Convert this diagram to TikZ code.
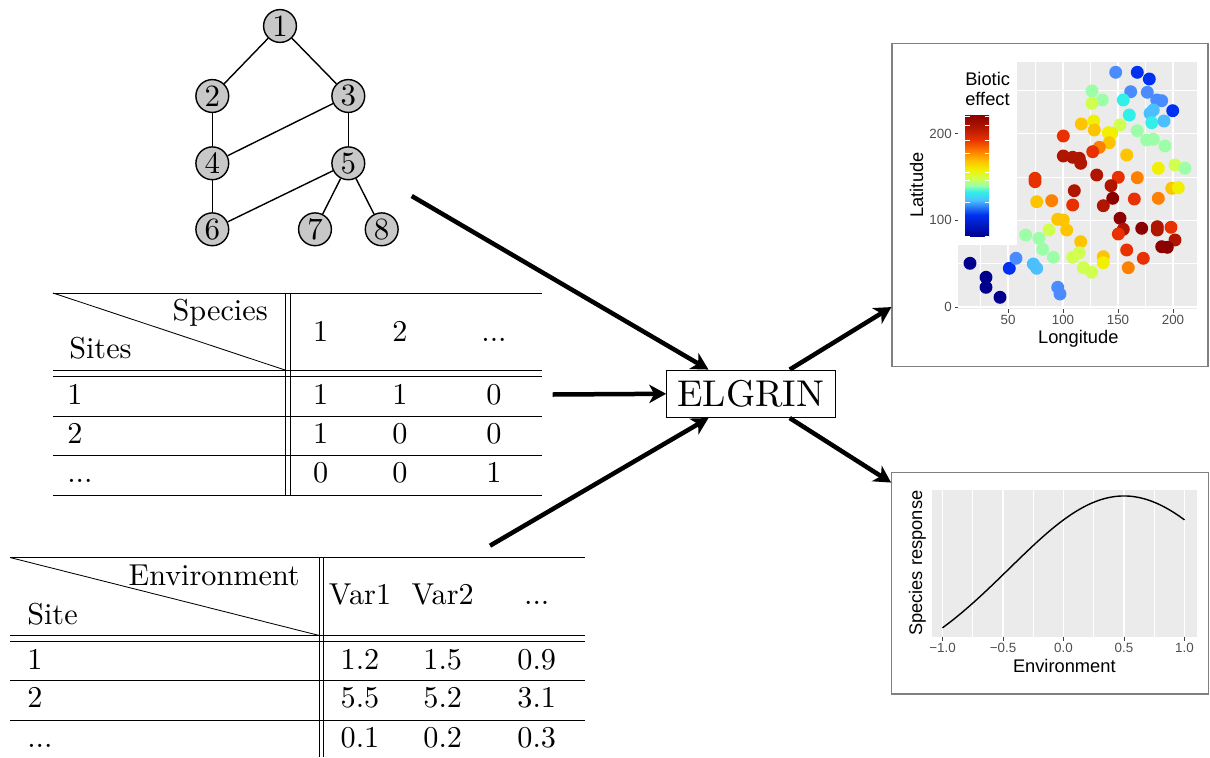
\documentclass[tikz,border=0pt]{standalone}
\usepackage{fontspec}
\usepackage{tikz}
\usetikzlibrary{positioning, arrows.meta, calc}
\setmainfont{lmroman10-regular.otf}
\newfontfamily\plotfont{Liberation Sans}

\definecolor{panelgrey}{HTML}{EBEBEB}
\definecolor{ticktext}{HTML}{4D4D4D}
\definecolor{framegrey}{HTML}{808080}
\definecolor{nodegrey}{HTML}{C8C8C8}
% jet palette, low to high
\definecolor{jet1}{HTML}{00008C}
\definecolor{jet2}{HTML}{0030F0}
\definecolor{jet3}{HTML}{4A8CFF}
\definecolor{jet4}{HTML}{4CC0FF}
\definecolor{jet5}{HTML}{30F0E8}
\definecolor{jet6}{HTML}{9CFFA8}
\definecolor{jet7}{HTML}{D0FF50}
\definecolor{jet8}{HTML}{F0F000}
\definecolor{jet9}{HTML}{FFC400}
\definecolor{jet10}{HTML}{FF8000}
\definecolor{jet11}{HTML}{E83000}
\definecolor{jet12}{HTML}{B01500}
\definecolor{jet13}{HTML}{8C0000}
\pgfdeclareverticalshading{jetbar}{100bp}{color(0bp)=(jet1); color(25bp)=(jet1);
  color(34bp)=(jet2); color(40bp)=(jet4); color(43.5bp)=(jet5); color(46bp)=(jet6);
  color(49bp)=(jet7); color(52.5bp)=(jet8); color(56bp)=(jet9); color(60bp)=(jet10);
  color(65bp)=(jet11); color(70bp)=(jet12); color(75bp)=(jet13); color(100bp)=(jet13)}

\begin{document}
\begin{tikzpicture}[x=0.025cm, y=-0.025cm,
    vertex/.style={draw, line width=1pt, circle, fill=nodegrey, minimum size=0.82cm,
                   inner sep=0pt, font=\fontsize{22}{24}\selectfont},
    edge/.style={line width=1pt},
    cell/.style={inner sep=0pt, anchor=base, font=\fontsize{21.5}{24}\selectfont},
    rowhead/.style={cell, anchor=base west},
    tabrule/.style={line width=0.6pt},
    engine/.style={draw, line width=0.6pt, minimum width=4.21cm, minimum height=1.19cm,
                   inner sep=0pt, font=\fontsize{26.5}{30}\selectfont},
    flow/.style={line width=3.2pt, -{Stealth[length=12pt, width=13pt, inset=3.5pt]}},
    figframe/.style={draw=framegrey, line width=0.8pt, inner sep=0pt},
    majorline/.style={white, line width=1pt},
    minorline/.style={white, line width=0.5pt},
    axtick/.style={black!75, line width=0.6pt},
    ticklabel/.style={font=\plotfont\fontsize{9.5}{11}\selectfont, text=ticktext, inner sep=0pt},
    axtitle/.style={font=\plotfont\fontsize{13}{14}\selectfont, inner sep=0pt}
]
    \useasboundingbox (0,0) rectangle (1210,757);

    % ========== Network ==========
    \node[vertex] (n1) at (280,26)     {1};
    \node[vertex] (n2) at (212.3,96)   {2};
    \node[vertex] (n3) at (348.3,96)   {3};
    \node[vertex] (n4) at (212.3,163.3) {4};
    \node[vertex] (n5) at (348.3,163.3) {5};
    \node[vertex] (n6) at (212.3,229.3) {6};
    \node[vertex] (n7) at (315,229.3)   {7};
    \node[vertex] (n8) at (381.7,229.3) {8};
    \draw[edge] (n1) -- (n2);
    \draw[edge] (n1) -- (n3);
    \draw[edge] (n2) -- (n4);
    \draw[edge] (n3) -- (n4);
    \draw[edge] (n3) -- (n5);
    \draw[edge] (n4) -- (n6);
    \draw[edge] (n5) -- (n6);
    \draw[edge] (n5) -- (n7);
    \draw[edge] (n5) -- (n8);

    % ========== Occurrence table ==========
    \foreach \ry in {293,370,376.5,416,455.7,495}
        \draw[tabrule] (53,\ry) -- (542,\ry);
    \draw[tabrule] (285,293) -- (285,495);
    \draw[tabrule] (290,293) -- (290,495);
    \draw[tabrule] (53,293) -- (285,370);
    \node[cell, anchor=base east] (occ_species) at (268,320) {Species};
    \node[rowhead] (occ_sites) at (69,358) {Sites};
    \node[cell] (occ_h1) at (320.7,341) {1};
    \node[cell] (occ_h2) at (400,341)   {2};
    \node[cell] (occ_h3) at (494,341)   {...};
    \node[rowhead] (occ_r1) at (67,404)   {1};
    \node[rowhead] (occ_r2) at (67,443)   {2};
    \node[rowhead] (occ_r3) at (67,482.5) {...};
    \node[cell] (occ_11) at (320.7,404) {1};
    \node[cell] (occ_12) at (400,404)   {1};
    \node[cell] (occ_13) at (494,404)   {0};
    \node[cell] (occ_21) at (320.7,443) {1};
    \node[cell] (occ_22) at (400,443)   {0};
    \node[cell] (occ_23) at (494,443)   {0};
    \node[cell] (occ_31) at (320.7,482.5) {0};
    \node[cell] (occ_32) at (400,482.5)   {0};
    \node[cell] (occ_33) at (494,482.5)   {1};

    % ========== Environment table ==========
    \foreach \ry in {557.5,635.5,641,680.5,720}
        \draw[tabrule] (10,\ry) -- (585,\ry);
    \draw[tabrule] (319.3,557.5) -- (319.3,757);
    \draw[tabrule] (323.8,557.5) -- (323.8,757);
    \draw[tabrule] (10,557.5) -- (319.3,635.5);
    \node[cell, anchor=base east] (env_title) at (300,585) {Environment};
    \node[rowhead] (env_site) at (27,624) {Site};
    \node[cell] (env_h1) at (360,604)   {Var1};
    \node[cell] (env_h2) at (442.7,604) {Var2};
    \node[cell] (env_h3) at (536.7,604) {...};
    \node[rowhead] (env_r1) at (27,669)   {1};
    \node[rowhead] (env_r2) at (27,707.5) {2};
    \node[rowhead] (env_r3) at (27,747.5) {...};
    \node[cell] (env_11) at (360,669)   {1.2};
    \node[cell] (env_12) at (442.7,669) {1.5};
    \node[cell] (env_13) at (536.7,669) {0.9};
    \node[cell] (env_21) at (360,707.5)   {5.5};
    \node[cell] (env_22) at (442.7,707.5) {5.2};
    \node[cell] (env_23) at (536.7,707.5) {3.1};
    \node[cell] (env_31) at (360,747.5)   {0.1};
    \node[cell] (env_32) at (442.7,747.5) {0.2};
    \node[cell] (env_33) at (536.7,747.5) {0.3};

    % ========== ELGRIN ==========
    \node[engine] (elgrin) at (750.8,393.8) {ELGRIN};

    % ========== Biotic effect map ==========
    \node[figframe, minimum width=7.9cm, minimum height=8.07cm] (map) at (1050,204.7) {};
    \fill[panelgrey] (958.3,61.7) rectangle (1196.7,309.3);
    \foreach \gx in {980.5,1035.5,1090.5,1145.5}
        \draw[minorline] (\gx,61.7) -- (\gx,309.3);
    \foreach \gy in {263.7,177,90.3}
        \draw[minorline] (958.3,\gy) -- (1196.7,\gy);
    \foreach \gx in {1008,1063,1118,1173}
        \draw[majorline] (\gx,61.7) -- (\gx,309.3);
    \foreach \gy in {307,220.3,133.6}
        \draw[majorline] (958.3,\gy) -- (1196.7,\gy);
    \foreach \px/\py/\pc in {
        1115.7/72.3/3, 1137.3/72.3/2, 1149.3/79/2, 1130.7/91.7/3, 1147.3/92.3/3,
        1156.7/100/3, 1161.7/100.7/3, 1172.7/110.7/2, 1092/91/6, 1102.3/100/6,
        1092/103.3/7, 1123.3/100/5, 1129.3/115/5, 1150/113.3/4, 1153.3/110/4,
        1151.7/122.7/5, 1164/121/4, 1081.3/124/9, 1093.7/121/8, 1094.3/130/9,
        1120/125/7, 1108.3/132.7/8, 1111.7/133.3/8, 1137.3/130.7/6, 1146.7/140/6,
        1153.3/139.3/6, 1165/146/6, 1063.3/136/11, 1109.3/142.7/9, 1099.3/147.3/10,
        1092.7/151.7/11, 1063.3/156/12, 1072.7/157.3/12, 1079.3/158.3/12, 1080.7/163.3/12,
        1126.7/155/9, 1158.3/168.3/8, 1175/165/7, 1185/168.3/6, 1035/178.3/11,
        1035/181.7/11, 1096.7/175/12, 1118.3/177.3/11, 1137.3/177.7/10, 1111/185.7/12,
        1074.3/190.7/12, 1036.7/201.7/9, 1051.7/200.7/10, 1072.7/205/11, 1112.7/198.3/13,
        1103.3/205.7/12, 1134.3/199/11, 1158.3/198.3/10, 1171.7/188.3/9, 1178.3/187.7/8,
        1120/218.3/13, 1123.3/229.3/12, 1118.3/234/11, 1141.7/228.3/13, 1157.3/226.7/12,
        1157.3/230/12, 1171/227.3/11, 1175/240/12, 1161.7/246.7/13, 1167.3/247.3/13,
        1057.7/219.3/9, 1063.3/220/9, 1066.7/230/9, 1049/230/7, 1025.7/235/6,
        1039/238.3/6, 1042.7/249.3/6, 1053.3/257.3/6, 1080.7/241.7/9, 1079.3/252.7/7,
        1072.7/257.3/7, 1083.3/267.7/7, 1091.7/272.3/7, 1103.3/256.7/9, 1103.3/262.7/8,
        1126.7/250/11, 1128.3/267.7/10, 1143.3/258.3/11, 970/263.3/1, 986/277.3/1,
        986/287.3/1, 1000/297.3/1, 1009.3/268.3/2, 1016/258.3/3, 1033.3/264/4,
        1036.7/268.3/4, 1057.7/287.3/3, 1060/294/3}
        \fill[jet\pc] (\px,\py) circle[radius=4.6pt];
    % legend
    \fill[white] (958.3,61.7) rectangle (1016.7,245);
    \node[axtitle, anchor=north west, align=left] (legend_title) at (965,72)
        {Biotic\\effect};
    \shade[shading=jetbar] (965,115) rectangle (989,236.7);
    \foreach \ly in {116,125,140,153,172,180,202,236}{
        \draw[white, line width=0.6pt] (965,\ly) -- (969.5,\ly);
        \draw[white, line width=0.6pt] (984.5,\ly) -- (989,\ly);
    }
    % axes
    \foreach \tx/\tl in {1008/50,1063/100,1118/150,1173/200}{
        \draw[axtick] (\tx,309.3) -- (\tx,313);
        \node[ticklabel, anchor=north] at (\tx,314.5) {\tl};
    }
    \foreach \ty/\tl in {307/0,220.3/100,133.6/200}{
        \draw[axtick] (954.5,\ty) -- (958.3,\ty);
        \node[ticklabel, anchor=east] at (952,\ty) {\tl};
    }
    \node[axtitle] (map_xlab) at (1078.3,339) {Longitude};
    \node[axtitle, rotate=90] (map_ylab) at (916.7,185) {Latitude};

    % ========== Species response ==========
    \node[figframe, minimum width=7.91cm, minimum height=5.53cm] (resp) at (1049.9,583.3) {};
    \fill[panelgrey] (931.7,490) rectangle (1197.3,636.7);
    \foreach \gx in {972.75,1033.25,1093.75,1154.25}
        \draw[minorline] (\gx,490) -- (\gx,636.7);
    \foreach \gx in {942.5,1003,1063.5,1124,1184.5}
        \draw[majorline] (\gx,490) -- (\gx,636.7);
    \draw[line width=1pt, samples=80, domain=-1:1]
        plot ({1063.5+121*\x},{681-185*exp(-(\x-0.5)*(\x-0.5)/1.805)});
    \foreach \tx/\tl in {942.5/−1.0,1003/−0.5,1063.5/0.0,1124/0.5,1184.5/1.0}{
        \draw[axtick] (\tx,636.7) -- (\tx,640.5);
        \node[ticklabel, anchor=north] at (\tx,643.2) {\tl};
    }
    \node[axtitle] (resp_xlab) at (1064.3,666) {Environment};
    \node[axtitle, rotate=90] (resp_ylab) at (917.5,563.3) {Species response};

    % --- Flows ---
    \coordinate (net_out) at (411.7,196);
    \coordinate (occ_out) at (552.7,394.5);
    \coordinate (env_out) at (490,545.7);
    \draw[flow] (net_out) -- ($(elgrin.north west)!0.25!(elgrin.north east)$);
    \draw[flow] (occ_out) -- (elgrin.west);
    \draw[flow] (env_out) -- ($(elgrin.south west)!0.25!(elgrin.south east)$);
    \draw[flow] ($(elgrin.north west)!0.73!(elgrin.north east)$)
        -- ($(map.south west)!0.184!(map.north west)$);
    \draw[flow] ($(elgrin.south west)!0.73!(elgrin.south east)$)
        -- ($(resp.north west)!0.047!(resp.south west)$);
\end{tikzpicture}
\end{document}
